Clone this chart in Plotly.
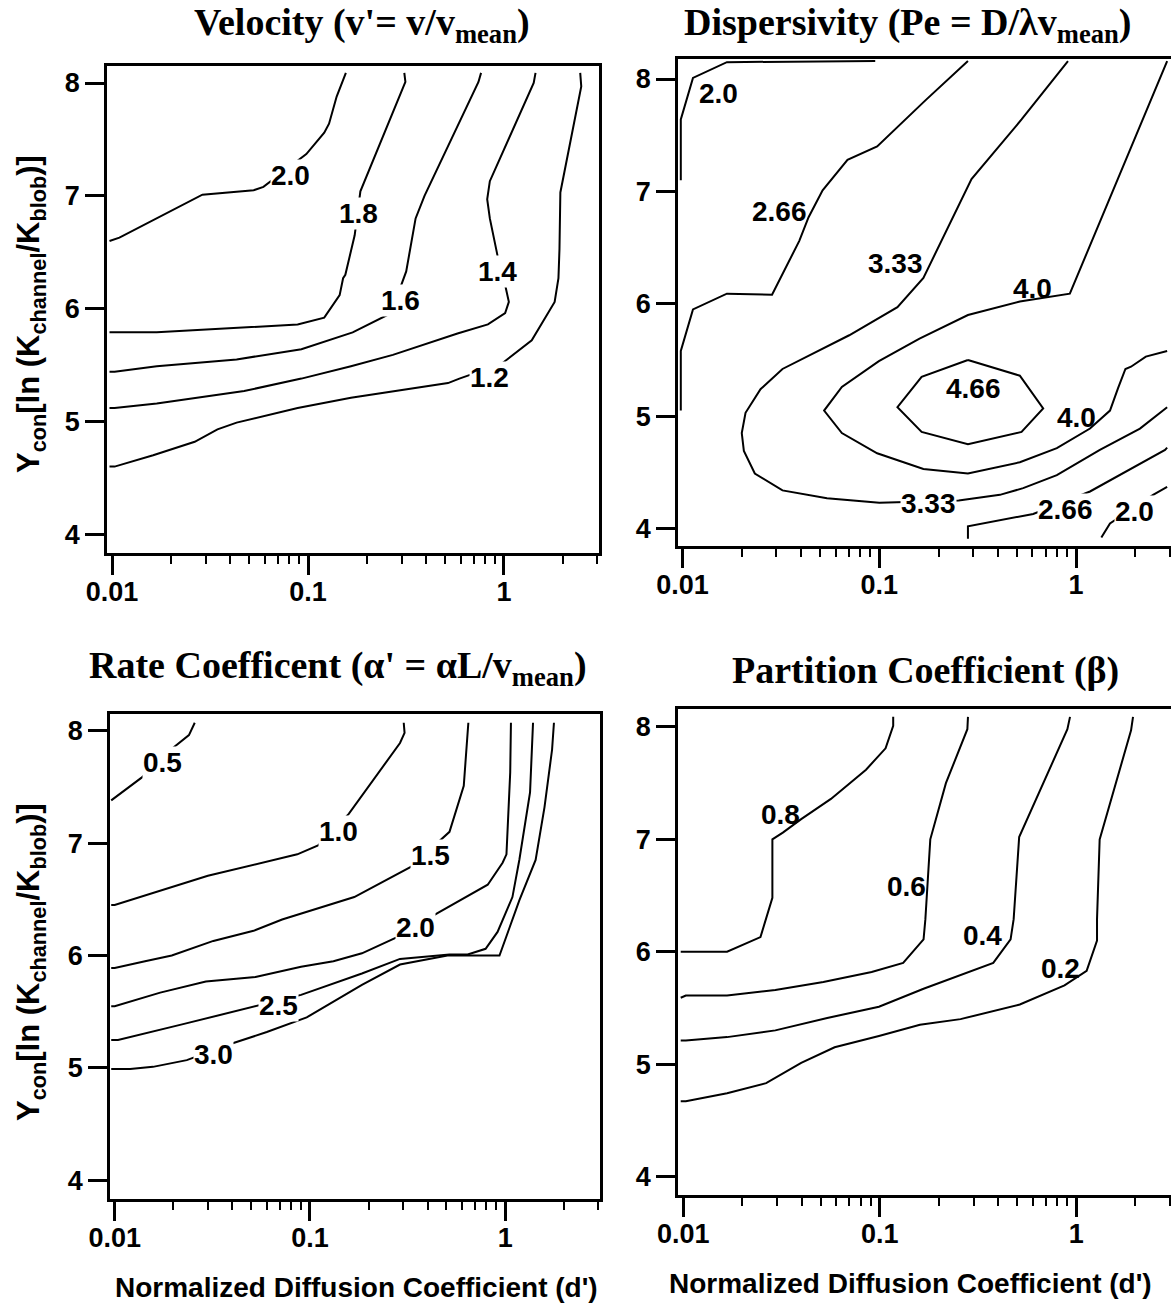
import numpy as np
import plotly.graph_objects as go

W, H = 1171, 1303

# ---------------- data: contour polylines (x = d', y = Ycon) ----------------
# Velocity panel
vel_20_x = [0.0097, 0.0109, 0.0289, 0.0528, 0.0592, 0.098, 0.121, 0.128, 0.140, 0.156]
vel_20_y = [6.60, 6.63, 7.01, 7.05, 7.08, 7.37, 7.56, 7.64, 7.88, 8.09]
vel_18_x = [0.0097, 0.0103, 0.0169, 0.0885, 0.121, 0.145, 0.151, 0.155, 0.173, 0.185, 0.226, 0.283, 0.314, 0.310]
vel_18_y = [5.79, 5.79, 5.79, 5.86, 5.92, 6.12, 6.27, 6.30, 6.65, 7.04, 7.41, 7.82, 8.01, 8.09]
vel_16_x = [0.0097, 0.0103, 0.0169, 0.0432, 0.0925, 0.169, 0.265, 0.317, 0.354, 0.393, 0.741, 0.764]
vel_16_y = [5.44, 5.44, 5.49, 5.55, 5.64, 5.79, 5.96, 6.33, 6.80, 7.00, 8.01, 8.09]
vel_14_x = [0.0097, 0.0103, 0.0169, 0.0472, 0.0925, 0.1656, 0.271, 0.579, 0.828, 1.014, 1.059, 1.014,
            0.927, 0.847, 0.821, 0.847, 1.418, 1.449]
vel_14_y = [5.12, 5.12, 5.16, 5.27, 5.38, 5.49, 5.59, 5.78, 5.86, 5.96, 6.06, 6.21,
            6.47, 6.80, 6.97, 7.13, 8.00, 8.09]
vel_12_x = [0.0097, 0.0103, 0.0162, 0.0264, 0.0345, 0.0432, 0.0885, 0.1656, 0.518, 0.592, 0.969, 1.186,
            1.386, 1.814, 1.897, 1.92, 1.94, 2.48, 2.45]
vel_12_y = [4.60, 4.60, 4.70, 4.82, 4.93, 4.99, 5.12, 5.21, 5.34, 5.38, 5.51, 5.63,
            5.72, 6.06, 6.27, 6.53, 7.03, 7.97, 8.09]
vel_label_text = ["2.0", "1.8", "1.6", "1.4", "1.2"]
vel_label_x = [0.0817, 0.181, 0.296, 0.927, 0.847]
vel_label_y = [7.18, 6.84, 6.07, 6.33, 5.39]
vel_label_mask = [True, True, True, True, True]

# Dispersivity panel
pe_20a_x = [0.0098, 0.0098, 0.0113, 0.0168, 0.0953]
pe_20a_y = [7.10, 7.64, 8.01, 8.15, 8.16]
pe_266a_x = [0.0098, 0.0098, 0.0113, 0.0168, 0.0285, 0.0392, 0.0437, 0.0515, 0.0689, 0.0975, 0.1714, 0.282]
pe_266a_y = [5.05, 5.58, 5.95, 6.09, 6.08, 6.56, 6.77, 7.01, 7.28, 7.40, 7.81, 8.16]
pe_333_x = [0.909, 0.528, 0.294, 0.1675, 0.1236, 0.0703, 0.0322, 0.0249, 0.0209, 0.020, 0.0205, 0.0233,
            0.0322, 0.0542, 0.100, 0.253, 0.410, 0.538, 0.798, 1.32, 2.11, 2.90]
pe_333_y = [8.16, 7.64, 7.11, 6.23, 5.97, 5.72, 5.42, 5.24, 5.03, 4.85, 4.69, 4.49,
            4.34, 4.27, 4.23, 4.25, 4.30, 4.36, 4.475, 4.70, 4.89, 5.08]
pe_40_x = [2.90, 0.929, 0.5175, 0.282, 0.160, 0.0995, 0.0645, 0.0524, 0.0645, 0.0975, 0.1675, 0.282,
           0.5175, 0.798, 1.176, 1.486, 1.633, 1.78, 1.90, 2.26, 2.90]
pe_40_y = [8.16, 6.09, 6.02, 5.90, 5.69, 5.49, 5.26, 5.05, 4.85, 4.67, 4.53, 4.49,
           4.59, 4.715, 4.89, 5.05, 5.25, 5.42, 5.44, 5.53, 5.58]
pe_466_x = [0.282, 0.5175, 0.680, 0.528, 0.282, 0.164, 0.1236, 0.164, 0.282]
pe_466_y = [5.50, 5.36, 5.07, 4.86, 4.75, 4.86, 5.08, 5.35, 5.50]
pe_266b_x = [0.282, 0.282, 0.605, 1.176, 2.83, 2.90]
pe_266b_y = [3.91, 4.02, 4.13, 4.33, 4.70, 4.72]
pe_20b_x = [1.343, 1.486, 2.46, 2.90]
pe_20b_y = [3.92, 4.045, 4.30, 4.37]
pe_label_text = ["2.0", "2.66", "3.33", "4.0", "4.66", "4.0", "3.33", "2.66", "2.0"]
pe_label_x = [0.0153, 0.0311, 0.121, 0.602, 0.301, 1.01, 0.1787, 0.878, 1.99]
pe_label_y = [7.87, 6.82, 6.36, 6.14, 5.25, 4.99, 4.22, 4.17, 4.15]
pe_label_mask = [False, False, False, False, False, False, True, True, True]

# Rate coefficient panel
al_05_x = [0.0096, 0.01368, 0.020, 0.024, 0.0257]
al_05_y = [7.38, 7.58, 7.85, 7.96, 8.07]
al_10_x = [0.0096, 0.010, 0.030, 0.0861, 0.110, 0.158, 0.289, 0.305, 0.302]
al_10_y = [6.45, 6.45, 6.71, 6.90, 6.98, 7.26, 7.89, 7.98, 8.07]
al_15_x = [0.0096, 0.010, 0.0143, 0.0196, 0.032, 0.0514, 0.072, 0.1686, 0.330, 0.518, 0.613, 0.647]
al_15_y = [5.89, 5.89, 5.95, 6.00, 6.13, 6.22, 6.32, 6.52, 6.79, 7.10, 7.51, 8.07]
al_20_x = [0.0096, 0.010, 0.0171, 0.0293, 0.0526, 0.090, 0.1318, 0.1845, 0.276, 0.452, 0.813, 0.969,
           1.014, 1.06, 1.069]
al_20_y = [5.55, 5.55, 5.67, 5.77, 5.81, 5.90, 5.95, 6.02, 6.16, 6.38, 6.63, 6.825,
           6.90, 7.63, 8.07]
al_25_x = [0.0096, 0.0104, 0.0224, 0.0502, 0.090, 0.1845, 0.289, 0.518, 0.642, 0.793, 0.913, 1.088,
           1.18, 1.339, 1.387]
al_25_y = [5.25, 5.25, 5.39, 5.54, 5.65, 5.84, 5.97, 6.01, 6.01, 6.06, 6.21, 6.52,
           6.85, 7.45, 8.07]
al_30_x = [0.0096, 0.012, 0.0157, 0.0234, 0.0402, 0.0601, 0.0962, 0.1845, 0.289, 0.506, 0.934, 1.18,
           1.43, 1.588, 1.736, 1.775]
al_30_y = [4.99, 4.99, 5.01, 5.07, 5.22, 5.32, 5.45, 5.74, 5.92, 6.00, 6.00, 6.49,
           6.85, 7.32, 7.83, 8.07]
al_label_text = ["0.5", "1.0", "1.5", "2.0", "2.5", "3.0"]
al_label_x = [0.0175, 0.1397, 0.413, 0.3455, 0.0693, 0.0322]
al_label_y = [7.72, 7.10, 6.89, 6.245, 5.56, 5.12]
al_label_mask = [True, True, True, True, True, True]

# Partition coefficient panel
be_08_x = [0.0097, 0.0167, 0.0247, 0.0264, 0.0284, 0.0284, 0.0321, 0.0398, 0.0564, 0.0851, 0.107, 0.117, 0.117]
be_08_y = [6.00, 6.00, 6.13, 6.29, 6.48, 7.00, 7.06, 7.18, 7.36, 7.62, 7.81, 8.01, 8.09]
be_06_x = [0.0097, 0.0103, 0.0167, 0.0294, 0.0516, 0.0909, 0.1315, 0.167, 0.1706, 0.1807, 0.217, 0.279, 0.281]
be_06_y = [5.59, 5.61, 5.61, 5.66, 5.73, 5.82, 5.90, 6.11, 6.29, 7.00, 7.50, 7.98, 8.09]
be_04_x = [0.0097, 0.0103, 0.0167, 0.0294, 0.054, 0.099, 0.167, 0.2576, 0.378, 0.463, 0.480, 0.512, 0.901, 0.929]
be_04_y = [5.21, 5.21, 5.24, 5.30, 5.41, 5.51, 5.67, 5.79, 5.90, 6.11, 6.29, 7.02, 7.98, 8.09]
be_02_x = [0.0097, 0.0103, 0.0167, 0.0264, 0.0398, 0.0589, 0.099, 0.160, 0.2576, 0.516, 0.871, 1.129,
           1.275, 1.275, 1.315, 1.90, 1.944]
be_02_y = [4.67, 4.67, 4.74, 4.83, 5.01, 5.15, 5.25, 5.35, 5.40, 5.53, 5.70, 5.83,
           6.10, 6.29, 7.00, 7.97, 8.09]
be_label_text = ["0.8", "0.6", "0.4", "0.2"]
be_label_x = [0.0313, 0.1374, 0.3345, 0.833]
be_label_y = [7.22, 6.58, 6.14, 5.85]
be_label_mask = [False, False, False, False]

# axis ticks
x_tick_vals = [0.01, 0.1, 1]
x_tick_text = ["0.01", "0.1", "1"]
x_minor_vals = [0.02, 0.03, 0.04, 0.05, 0.06, 0.07, 0.08, 0.09,
                0.2, 0.3, 0.4, 0.5, 0.6, 0.7, 0.8, 0.9, 2, 3]
y_tick_vals = [4, 5, 6, 7, 8]

titles = ["Velocity (v'= v/v<sub>mean</sub>)",
          "Dispersivity (Pe = D/λv<sub>mean</sub>)",
          "Rate Coefficent (α' = αL/v<sub>mean</sub>)",
          "Partition Coefficient (β)"]
y_title = "Y<sub>con</sub>[ln (K<sub>channel</sub>/K<sub>blob</sub>)]"
x_title = "Normalized Diffusion Coefficient (d')"

# ---------------- layout geometry (pixels) ----------------
SANS = "Liberation Sans, Arial, Helvetica, sans-serif"
SERIF = "Liberation Serif, Times New Roman, serif"

panels = [
    # frame px: left, right, top, bottom ; log-x range ; y range
    dict(px=(107, 599, 66, 553), xr=(-2.026, 0.485), yr=(3.834, 8.151)),
    dict(px=(678, 1171, 59, 546), xr=(-2.023, 0.482), yr=(3.845, 8.178)),
    dict(px=(110, 600, 714, 1199), xr=(-2.024, 0.485), yr=(3.835, 8.148)),
    dict(px=(678, 1171, 709, 1195), xr=(-2.027, 0.482), yr=(3.835, 8.160)),
]

panel_lines = [
    [(vel_20_x, vel_20_y), (vel_18_x, vel_18_y), (vel_16_x, vel_16_y), (vel_14_x, vel_14_y), (vel_12_x, vel_12_y)],
    [(pe_20a_x, pe_20a_y), (pe_266a_x, pe_266a_y), (pe_333_x, pe_333_y), (pe_40_x, pe_40_y),
     (pe_466_x, pe_466_y), (pe_266b_x, pe_266b_y), (pe_20b_x, pe_20b_y)],
    [(al_05_x, al_05_y), (al_10_x, al_10_y), (al_15_x, al_15_y), (al_20_x, al_20_y),
     (al_25_x, al_25_y), (al_30_x, al_30_y)],
    [(be_08_x, be_08_y), (be_06_x, be_06_y), (be_04_x, be_04_y), (be_02_x, be_02_y)],
]
panel_labels = [
    (vel_label_text, vel_label_x, vel_label_y, vel_label_mask),
    (pe_label_text, pe_label_x, pe_label_y, pe_label_mask),
    (al_label_text, al_label_x, al_label_y, al_label_mask),
    (be_label_text, be_label_x, be_label_y, be_label_mask),
]

fig = go.Figure()
layout = dict(width=W, height=H, margin=dict(l=0, r=0, t=0, b=0), autosize=False,
              paper_bgcolor="white", plot_bgcolor="white", showlegend=False)
annotations = []

for i, p in enumerate(panels):
    n = "" if i == 0 else str(i + 1)
    xa, ya = "x" + n, "y" + n
    l, r, t, b = p["px"]
    layout["xaxis" + n] = dict(
        type="log", domain=[l / W, r / W], range=list(p["xr"]), anchor=ya,
        showline=True, linecolor="black", linewidth=2.5, mirror=True,
        showgrid=False, zeroline=False, automargin=False,
        tickmode="array", tickvals=x_tick_vals, ticktext=x_tick_text,
        ticks="outside", ticklen=19, tickwidth=2.5, tickcolor="black",
        ticklabelstandoff=-6,
        minor=dict(tickmode="array", tickvals=x_minor_vals, ticks="outside", ticklen=8,
                   tickwidth=2, tickcolor="black", showgrid=False),
        tickfont=dict(family=SANS, size=27, color="black", weight="bold"),
    )
    layout["yaxis" + n] = dict(
        domain=[1 - b / H, 1 - t / H], range=list(p["yr"]), anchor=xa,
        showline=True, linecolor="black", linewidth=2.5, mirror=True,
        showgrid=False, zeroline=False, automargin=False,
        tickmode="array", tickvals=y_tick_vals,
        ticks="outside", ticklen=19, tickwidth=2.5, tickcolor="black",
        tickfont=dict(family=SANS, size=27, color="black", weight="bold"),
    )
    for (xs, ys) in panel_lines[i]:
        fig.add_trace(go.Scatter(x=xs, y=ys, mode="lines", xaxis=xa, yaxis=ya,
                                 line=dict(color="black", width=2), hoverinfo="skip"))
    txt, lx, ly, lm = panel_labels[i]
    for s, xv, yv, m in zip(txt, lx, ly, lm):
        annotations.append(dict(
            x=float(np.log10(xv)), y=yv, xref=xa, yref=ya, text=s, showarrow=False,
            font=dict(family=SANS, size=28, color="black", weight="bold"),
            bgcolor="white" if m else "rgba(0,0,0,0)", borderpad=0,
            xanchor="center", yanchor="middle"))

# panel titles
title_pos = [(362, 25), (907, 25), (338, 668), (925, 670)]
for s, (tx, ty) in zip(titles, title_pos):
    annotations.append(dict(x=tx / W, y=1 - ty / H, xref="paper", yref="paper", text=s,
                            showarrow=False, xanchor="center", yanchor="middle",
                            font=dict(family=SERIF, size=38, color="black", weight="bold")))
# y axis titles (left panels only)
for (tx, ty) in [(31, 314), (31, 962)]:
    annotations.append(dict(x=tx / W, y=1 - ty / H, xref="paper", yref="paper", text=y_title,
                            showarrow=False, textangle=-90, xanchor="center", yanchor="middle",
                            font=dict(family=SANS, size=31, color="black", weight="bold")))
# x axis titles (bottom panels only)
for (tx, ty) in [(356, 1287), (911, 1283)]:
    annotations.append(dict(x=tx / W, y=1 - ty / H, xref="paper", yref="paper", text=x_title,
                            showarrow=False, xanchor="center", yanchor="middle",
                            font=dict(family=SANS, size=28, color="black", weight="bold")))

layout["annotations"] = annotations
fig.update_layout(**layout)
fig.write_html("out.html")
